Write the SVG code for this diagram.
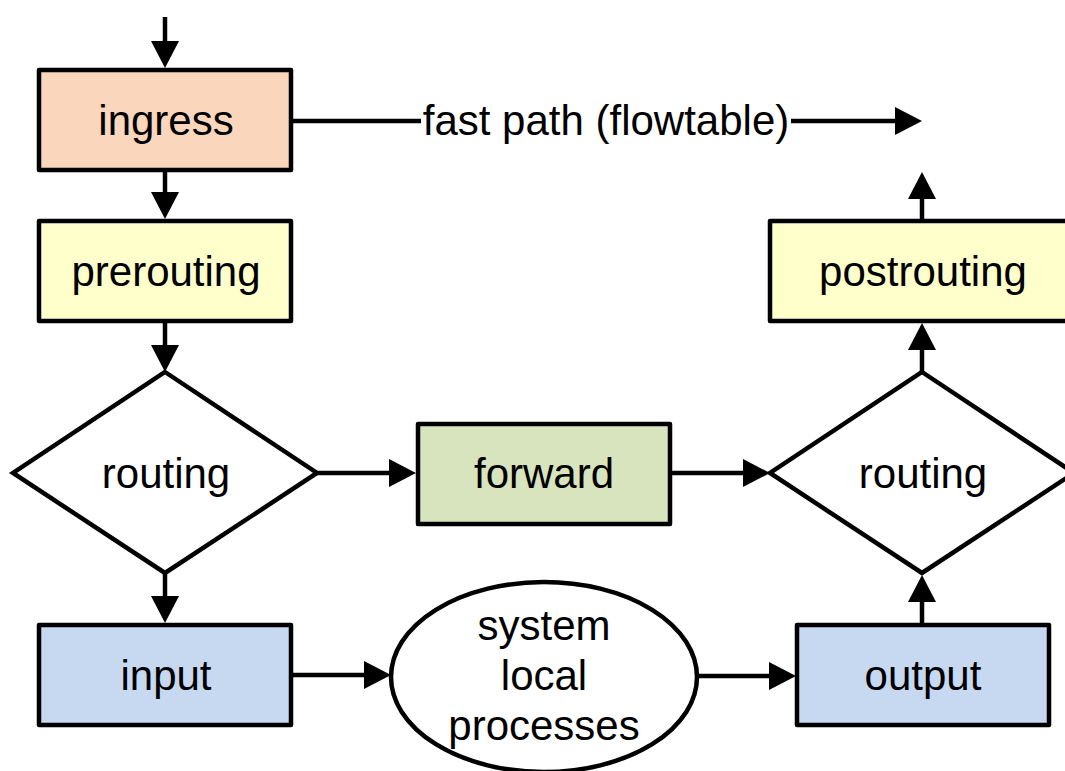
<svg xmlns="http://www.w3.org/2000/svg" width="1065" height="771" viewBox="0 0 1065 771">
<defs>
<style>
.box{stroke:#000;stroke-width:4.5;stroke-linejoin:round}
.shape{fill:#fff;stroke:#000;stroke-width:4.5;stroke-linejoin:miter}
.lbl{font-family:"Liberation Sans",Arial,sans-serif;font-size:42px;fill:#000;text-anchor:middle}
.conn{fill:none;stroke:#000;stroke-width:4.5}
</style>
<marker id="ah" markerUnits="userSpaceOnUse" markerWidth="29" markerHeight="29" refX="2" refY="14" orient="auto" viewBox="0 0 29 28">
<path d="M0,0 L27,14 L0,28 z" fill="#000"/>
</marker>
</defs>
<rect width="1065" height="771" fill="#fff"/>
<g id="connectors">
<path class="conn" d="M165,17 V43" marker-end="url(#ah)"/>
<path class="conn" d="M165,170 V194" marker-end="url(#ah)"/>
<path class="conn" d="M165,321 V347" marker-end="url(#ah)"/>
<path class="conn" d="M317,473 H391" marker-end="url(#ah)"/>
<path class="conn" d="M670,473 H745" marker-end="url(#ah)"/>
<path class="conn" d="M922,372 V348" marker-end="url(#ah)"/>
<path class="conn" d="M922,221 V197" marker-end="url(#ah)"/>
<path class="conn" d="M291,121 H421"/>
<path class="conn" d="M791,121 H897" marker-end="url(#ah)"/>
<path class="conn" d="M165,573 V598" marker-end="url(#ah)"/>
<path class="conn" d="M291,675 H366" marker-end="url(#ah)"/>
<path class="conn" d="M697,676 H771" marker-end="url(#ah)"/>
<path class="conn" d="M922,625 V600" marker-end="url(#ah)"/>
<text class="lbl" x="606" y="135">fast path (flowtable)</text>
</g>
<g id="ingress">
<rect class="box" x="39" y="70" width="252" height="100" fill="#fad6bc"/>
<text class="lbl" x="166" y="135">ingress</text>
</g>
<g id="prerouting">
<rect class="box" x="39" y="221" width="252" height="100" fill="#ffffcc"/>
<text class="lbl" x="166" y="286">prerouting</text>
</g>
<g id="routing1">
<polygon class="shape" points="165,372 317,473 165,573 13,473"/>
<text class="lbl" x="166" y="488">routing</text>
</g>
<g id="forward">
<rect class="box" x="418" y="424" width="252" height="100" fill="#d7e4bd"/>
<text class="lbl" x="544" y="488">forward</text>
</g>
<g id="routing2">
<polygon class="shape" points="922,372 1074,473 922,573 770,473"/>
<text class="lbl" x="923" y="488">routing</text>
</g>
<g id="postrouting">
<rect class="box" x="770" y="221" width="306" height="100" fill="#ffffcc"/>
<text class="lbl" x="923" y="286">postrouting</text>
</g>
<g id="input">
<rect class="box" x="39" y="625" width="252" height="100" fill="#c6d9f0"/>
<text class="lbl" x="166" y="690">input</text>
</g>
<g id="local">
<ellipse class="shape" cx="544" cy="677" rx="153" ry="95"/>
<text class="lbl" x="544" y="640">system</text>
<text class="lbl" x="544" y="690">local</text>
<text class="lbl" x="544" y="740">processes</text>
</g>
<g id="output">
<rect class="box" x="797" y="625" width="252" height="100" fill="#c6d9f0"/>
<text class="lbl" x="923" y="690">output</text>
</g>
</svg>
